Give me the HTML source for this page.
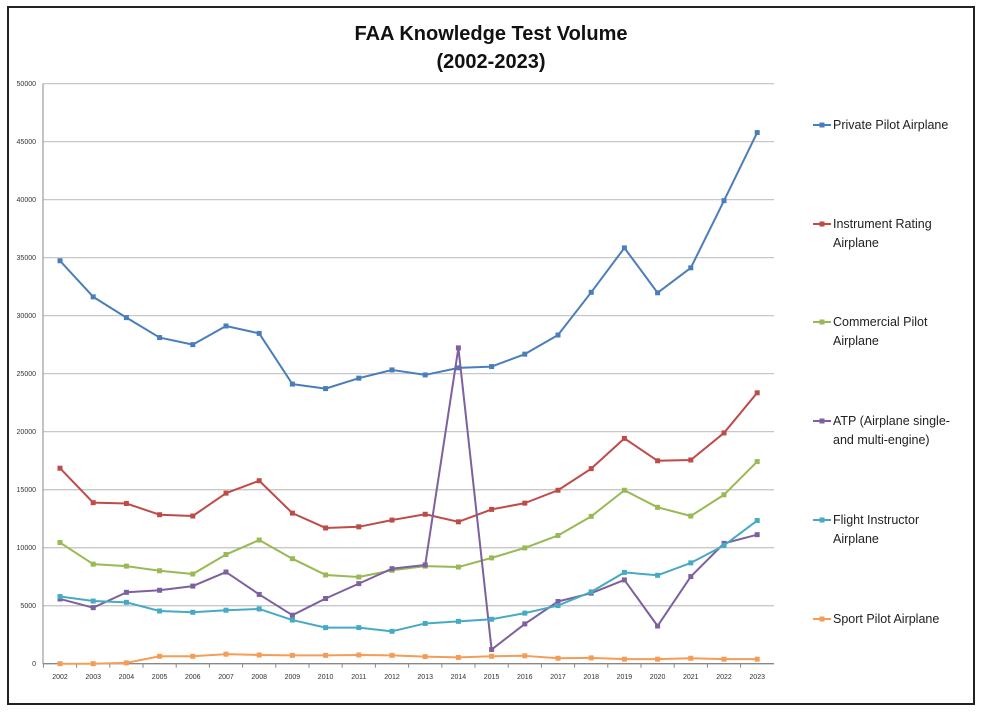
<!DOCTYPE html>
<html><head><meta charset="utf-8"><style>
body{margin:0;background:#fff;width:984px;height:714px;overflow:hidden;font-family:"Liberation Sans",sans-serif}
#frame{position:absolute;left:7px;top:6px;width:968px;height:699px;border:2px solid #222;box-sizing:border-box}
</style></head><body>
<div id="frame"></div>
<svg id="chart" width="984" height="714" style="position:absolute;left:0;top:0">
<text x="491" y="40" text-anchor="middle" font-size="20" font-weight="bold" fill="#111">FAA Knowledge Test Volume</text>
<text x="491" y="68" text-anchor="middle" font-size="20" font-weight="bold" fill="#111">(2002-2023)</text>
<g id="grid"></g><g id="series"></g><g id="legend"></g>
</svg>
<script>
const years=["2002","2003","2004","2005","2006","2007","2008","2009","2010","2011","2012","2013","2014","2015","2016","2017","2018","2019","2020","2021","2022","2023"];
const yTicks=[0,5000,10000,15000,20000,25000,30000,35000,40000,45000,50000];
const privatePilot=[34730,31620,29830,28110,27500,29110,28470,24100,23710,24610,25320,24890,25500,25610,26680,28330,32010,35840,31970,34120,39910,45780];
const instrument=[16850,13880,13810,12840,12730,14700,15770,12980,11700,11800,12380,12880,12230,13300,13840,14950,16810,19420,17490,17560,19890,23350];
const commercial=[10440,8580,8410,8010,7730,9410,10660,9050,7650,7470,8050,8410,8330,9120,9980,11050,12700,14950,13480,12730,14560,17420];
const atp=[5580,4830,6150,6330,6690,7900,5970,4180,5620,6900,8190,8510,27220,1220,3430,5360,6080,7220,3250,7510,10370,11120];
const flightInstructor=[5790,5400,5290,4540,4430,4610,4720,3760,3110,3110,2790,3470,3650,3830,4360,5010,6190,7870,7620,8690,10190,12340];
const sport=[0,0,70,640,640,820,750,720,720,750,720,610,540,640,680,470,500,390,390,470,390,390];
const seriesNames=[["Private Pilot Airplane"],["Instrument Rating","Airplane"],["Commercial Pilot","Airplane"],["ATP (Airplane single-","and multi-engine)"],["Flight Instructor","Airplane"],["Sport Pilot Airplane"]];
const ns="http://www.w3.org/2000/svg";
const X0=43,X1=774,Y0=663.7,Y50=83.6;
function xs(i){return 60+i*33.2;}
function ys(v){return Y0-(v/50000)*(Y0-Y50);}
function mk(t,a,p){const e=document.createElementNS(ns,t);for(const k in a)e.setAttribute(k,a[k]);p.appendChild(e);return e;}
const grid=document.getElementById('grid');
yTicks.forEach(v=>{
  const l=mk('line',{x1:X0,x2:X1,y1:ys(v),y2:ys(v),stroke:v===0?'#888':'#c8c8c8','stroke-width':1.3},grid);
  
  
  const t=mk('text',{x:36,y:ys(v)+2.5,'text-anchor':'end','font-size':7,fill:'#333'},grid);
  t.textContent=v;
  
  
});
const ax=mk('line',{x1:X0,x2:X0,y1:Y50,y2:Y0,stroke:'#888'},grid);


years.forEach((y,i)=>{
  const t=mk('text',{x:xs(i),y:679,'text-anchor':'middle','font-size':7,fill:'#333'},grid);
  t.textContent=y;
  
  
  const tk=mk('line',{x1:xs(i)-16.6,x2:xs(i)-16.6,y1:Y0,y2:Y0+4,stroke:'#888'},grid);
  
  
});
const data=[privatePilot,instrument,commercial,atp,flightInstructor,sport];
const colors=['#4a7ebb','#be4b48','#98b954','#7d60a0','#46aac4','#f59d56'];
const legY=[129,228,326,425,524,623];
const sg=document.getElementById('series'),lg=document.getElementById('legend');
data.forEach((d,s)=>{
  const p=mk('polyline',{points:d.map((v,i)=>xs(i)+','+ys(v)).join(' '),fill:'none',stroke:colors[s],'stroke-width':2,'stroke-linejoin':'round'},sg);
  
  
  d.forEach((v,i)=>{
    const r=mk('rect',{x:xs(i)-2.5,y:ys(v)-2.5,width:5,height:5,fill:colors[s]},sg);
    
    
  });
  const g=mk('g',{},lg);
  
  
  mk('line',{x1:813,x2:831,y1:legY[s]-4,y2:legY[s]-4,stroke:colors[s],'stroke-width':2},g);
  mk('rect',{x:819.5,y:legY[s]-6.5,width:5,height:5,fill:colors[s]},g);
  seriesNames[s].forEach((ln,k)=>{
    const t=mk('text',{x:833,y:legY[s]+k*19,'font-size':12.5,fill:'#222'},g);
    t.textContent=ln;
  });
});
</script>
</body></html>
